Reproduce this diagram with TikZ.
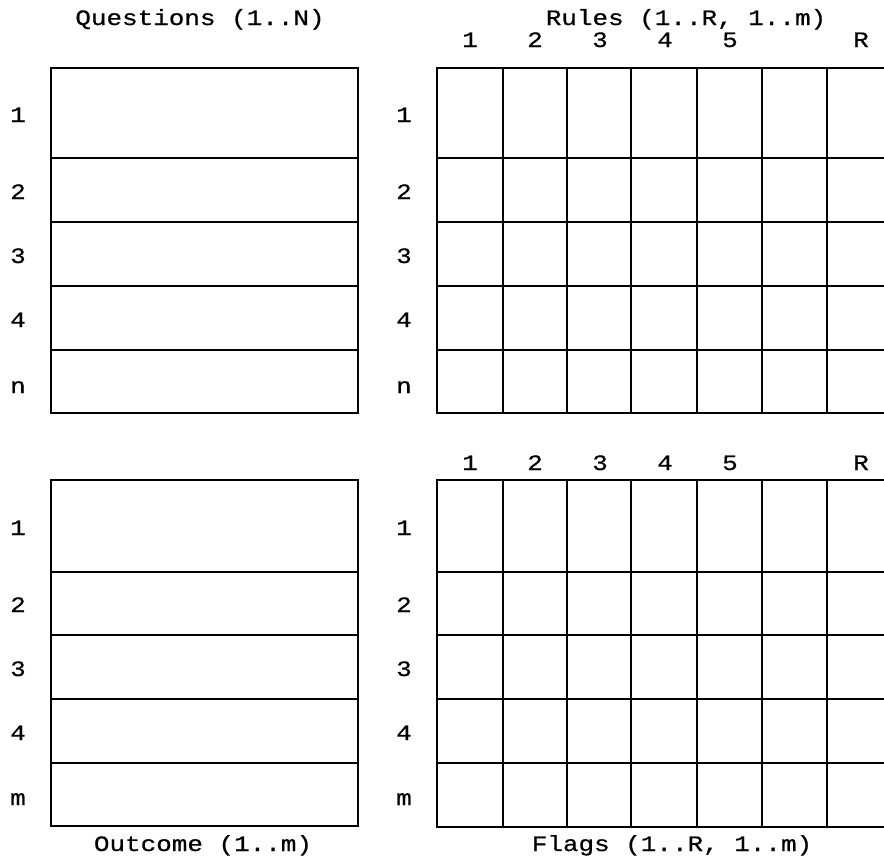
\documentclass[tikz,border=0pt]{standalone}
\usepackage{fontspec}
\setmonofont[FakeStretch=1.18,FakeBold=0.6]{Liberation Mono}
\begin{document}
\begin{tikzpicture}[x=1pt,y=-1pt,
  lbl/.style={font=\fontsize{22}{26}\selectfont\ttfamily, inner sep=0pt, anchor=base},
  outerline/.style={line width=2.6pt, line cap=rect},
  innerline/.style={line width=1.9pt}]
\useasboundingbox (0,0) rectangle (884,860);
% ---- top-left: Questions
\foreach \y in {158,222,286,350} \draw[innerline] (51,\y) -- (358,\y);
\draw[outerline] (51,68) rectangle (358,413);
% ---- bottom-left: Outcome
\foreach \y in {572,635,699,763} \draw[innerline] (51,\y) -- (358,\y);
\draw[outerline] (51,480) rectangle (358,826);
% ---- top-right: Rules grid
\foreach \y in {158,222,286,350} \draw[innerline] (437,\y) -- (884,\y);
\foreach \x in {503,567,631,697,762,827} \draw[innerline] (\x,68) -- (\x,413);
\draw[outerline] (884,68) -- (437,68) -- (437,413) -- (884,413);
% ---- bottom-right: Flags grid
\foreach \y in {572,635,699,763} \draw[innerline] (437,\y) -- (884,\y);
\foreach \x in {503,567,631,697,762,827} \draw[innerline] (\x,480) -- (\x,827);
\draw[outerline] (884,480) -- (437,480) -- (437,827) -- (884,827);
% ---- titles
\node[lbl] (tq) at (200,25) {Questions (1..N)};
\node[lbl] (tr) at (686,25) {Rules (1..R, 1..m)};
\node[lbl] (to) at (203,851) {Outcome (1..m)};
\node[lbl] (tf) at (672,851) {Flags (1..R, 1..m)};
% ---- column labels
\foreach \t/\x [count=\i] in {1/470,2/535,3/600,4/665,5/730,R/861} {
  \node[lbl] (ct\i) at (\x,47) {\t};
  \node[lbl] (cb\i) at (\x,470) {\t};
}
% ---- row labels
\foreach \t/\y [count=\i] in {1/122,2/199,3/263,4/327,n/393} {
  \node[lbl] (rql\i) at (18,\y) {\t};
  \node[lbl] (rrl\i) at (404,\y) {\t};
}
\foreach \t/\y [count=\i] in {1/535,2/612,3/676,4/740,m/805} {
  \node[lbl] (rol\i) at (18,\y) {\t};
  \node[lbl] (rfl\i) at (404,\y) {\t};
}
\end{tikzpicture}
\end{document}
